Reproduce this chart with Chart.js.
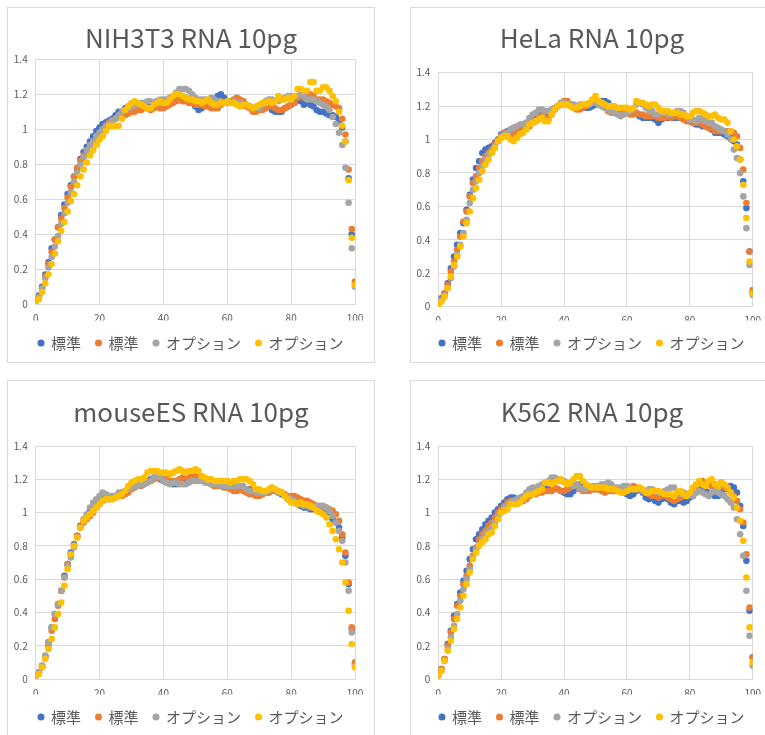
<!DOCTYPE html>
<html>
<head>
<meta charset="utf-8">
<script src="https://cdn.jsdelivr.net/npm/chart.js@4"></script>
<style>
  html, body { margin: 0; padding: 0; background: #fff; }
  #page { position: relative; width: 765px; height: 735px; overflow: hidden; background: #fff; }
  .frame { position: absolute; border: 1px solid #d9d9d9; box-sizing: border-box; }
  canvas { position: absolute; }
</style>
</head>
<body>
<div id="page"></div>
<script>
// position along the read (0-100), one point per step
const xs = [0,1,2,3,4,5,6,7,8,9,10,11,12,13,14,15,16,17,18,19,20,21,22,23,24,25,26,27,28,29,30,31,32,33,34,35,36,37,38,39,40,
  41,42,43,44,45,46,47,48,49,50,51,52,53,54,55,56,57,58,59,60,61,62,63,64,65,66,67,68,69,70,71,72,73,74,75,76,77,78,79,80,
  81,82,83,84,85,86,87,88,89,90,91,92,93,94,95,96,97,98,99,100];

const seriesNames = ["標準", "標準", "オプション", "オプション"];
const seriesColors = ["#4472C4", "#ED7D31", "#A5A5A5", "#FFC000"];
const chartTitles = ["NIH3T3 RNA 10pg", "HeLa RNA 10pg", "mouseES RNA 10pg", "K562 RNA 10pg"];

const nihBlue = [0.03,0.05,0.10,0.17,0.24,0.32,0.37,0.44,0.51,0.57,
  0.63,0.68,0.73,0.77,0.83,0.87,0.90,0.93,0.96,0.99,
  1.01,1.03,1.04,1.05,1.06,1.08,1.10,1.10,1.12,1.13,
  1.13,1.14,1.15,1.15,1.15,1.14,1.14,1.15,1.16,1.16,
  1.16,1.16,1.16,1.17,1.19,1.19,1.18,1.18,1.17,1.15,
  1.13,1.11,1.12,1.14,1.16,1.17,1.17,1.19,1.20,1.18,
  1.16,1.16,1.15,1.15,1.15,1.16,1.14,1.13,1.12,1.12,
  1.12,1.13,1.14,1.13,1.11,1.10,1.10,1.10,1.12,1.13,
  1.14,1.15,1.17,1.16,1.14,1.15,1.14,1.13,1.11,1.10,
  1.10,1.09,1.08,1.08,1.07,1.05,1.01,0.93,0.72,0.40,
  0.12];
const nihOrange = [0.02,0.04,0.09,0.16,0.23,0.30,0.37,0.44,0.49,0.55,
  0.61,0.67,0.73,0.78,0.82,0.85,0.88,0.91,0.93,0.96,
  0.98,1.00,1.02,1.04,1.05,1.06,1.07,1.07,1.08,1.09,
  1.10,1.10,1.11,1.11,1.12,1.12,1.11,1.12,1.13,1.12,
  1.12,1.13,1.14,1.15,1.16,1.17,1.16,1.16,1.15,1.15,
  1.14,1.14,1.14,1.13,1.13,1.12,1.12,1.12,1.14,1.15,
  1.15,1.16,1.17,1.18,1.17,1.16,1.13,1.12,1.10,1.10,
  1.11,1.11,1.12,1.13,1.13,1.12,1.11,1.11,1.12,1.13,
  1.14,1.15,1.18,1.19,1.18,1.18,1.20,1.19,1.17,1.17,
  1.17,1.16,1.15,1.14,1.13,1.12,1.06,0.97,0.77,0.43,
  0.13];
const nihGray = [0.02,0.04,0.09,0.15,0.21,0.27,0.33,0.39,0.46,0.52,
  0.58,0.64,0.70,0.75,0.80,0.84,0.88,0.91,0.93,0.96,
  0.98,1.00,1.02,1.03,1.05,1.06,1.08,1.10,1.11,1.12,
  1.13,1.14,1.14,1.15,1.15,1.16,1.16,1.15,1.16,1.17,
  1.17,1.17,1.18,1.19,1.21,1.23,1.23,1.23,1.22,1.20,
  1.18,1.17,1.17,1.17,1.17,1.18,1.17,1.16,1.16,1.15,
  1.15,1.15,1.16,1.15,1.15,1.14,1.14,1.13,1.12,1.12,
  1.12,1.14,1.16,1.17,1.17,1.16,1.16,1.17,1.18,1.19,
  1.19,1.19,1.19,1.20,1.19,1.17,1.17,1.17,1.16,1.15,
  1.14,1.13,1.11,1.07,1.03,0.98,0.91,0.78,0.58,0.32,
  0.10];
const nihYellow = [0.01,0.03,0.07,0.12,0.17,0.23,0.29,0.36,0.42,0.47,
  0.53,0.59,0.63,0.68,0.73,0.77,0.81,0.85,0.88,0.91,
  0.94,0.96,0.99,1.02,1.02,1.02,1.02,1.06,1.11,1.13,
  1.15,1.16,1.15,1.14,1.13,1.12,1.12,1.14,1.15,1.16,
  1.15,1.15,1.17,1.19,1.20,1.20,1.19,1.18,1.17,1.17,
  1.16,1.16,1.15,1.16,1.17,1.15,1.14,1.14,1.15,1.15,
  1.16,1.15,1.15,1.14,1.13,1.14,1.14,1.13,1.12,1.13,
  1.14,1.15,1.15,1.16,1.15,1.16,1.19,1.17,1.17,1.18,
  1.17,1.19,1.23,1.23,1.22,1.22,1.27,1.27,1.22,1.22,
  1.24,1.24,1.22,1.19,1.16,1.10,1.02,0.93,0.71,0.38,
  0.11];

const helaBlue = [0.03,0.05,0.08,0.14,0.23,0.30,0.37,0.44,0.50,0.58,
  0.67,0.76,0.83,0.87,0.92,0.94,0.95,0.96,0.98,1.00,
  1.03,1.04,1.05,1.06,1.07,1.07,1.08,1.09,1.10,1.11,
  1.12,1.13,1.15,1.16,1.14,1.14,1.16,1.18,1.20,1.21,
  1.22,1.22,1.21,1.20,1.19,1.19,1.19,1.19,1.19,1.20,
  1.21,1.22,1.23,1.23,1.22,1.20,1.19,1.18,1.17,1.17,
  1.17,1.16,1.16,1.16,1.14,1.13,1.13,1.13,1.13,1.12,
  1.10,1.12,1.13,1.13,1.13,1.13,1.13,1.14,1.14,1.12,
  1.11,1.10,1.09,1.09,1.08,1.08,1.07,1.06,1.04,1.04,
  1.04,1.03,1.02,1.01,0.99,0.97,0.88,0.75,0.59,0.33,
  0.09];
const helaOrange = [0.02,0.04,0.08,0.13,0.21,0.27,0.34,0.42,0.51,0.57,
  0.66,0.74,0.78,0.83,0.87,0.90,0.92,0.94,0.97,1.00,
  1.02,1.04,1.04,1.03,1.03,1.04,1.05,1.06,1.07,1.08,
  1.10,1.11,1.13,1.14,1.13,1.12,1.15,1.18,1.20,1.21,
  1.23,1.23,1.21,1.19,1.18,1.18,1.19,1.20,1.21,1.22,
  1.22,1.21,1.20,1.19,1.17,1.16,1.17,1.17,1.17,1.17,
  1.16,1.15,1.15,1.16,1.15,1.15,1.14,1.14,1.14,1.14,
  1.13,1.13,1.13,1.14,1.13,1.14,1.14,1.13,1.12,1.11,
  1.11,1.10,1.10,1.10,1.09,1.08,1.07,1.07,1.05,1.05,
  1.05,1.05,1.05,1.05,1.04,1.02,0.95,0.82,0.62,0.33,
  0.10];
const helaGray = [0.02,0.04,0.07,0.11,0.17,0.24,0.31,0.37,0.44,0.52,
  0.62,0.70,0.75,0.80,0.84,0.88,0.91,0.93,0.96,0.99,
  1.02,1.03,1.04,1.06,1.07,1.08,1.09,1.09,1.10,1.13,
  1.15,1.16,1.18,1.18,1.17,1.17,1.18,1.19,1.20,1.22,
  1.22,1.21,1.21,1.21,1.20,1.21,1.21,1.21,1.21,1.22,
  1.23,1.21,1.20,1.19,1.18,1.17,1.16,1.15,1.14,1.15,
  1.16,1.17,1.18,1.21,1.22,1.21,1.19,1.17,1.17,1.15,
  1.15,1.16,1.16,1.15,1.15,1.16,1.17,1.17,1.16,1.14,
  1.12,1.12,1.11,1.13,1.12,1.11,1.10,1.10,1.08,1.07,
  1.06,1.05,1.03,1.00,0.94,0.89,0.80,0.66,0.47,0.25,
  0.07];
const helaYellow = [0.01,0.03,0.06,0.11,0.18,0.25,0.30,0.36,0.42,0.50,
  0.57,0.65,0.71,0.76,0.81,0.85,0.88,0.92,0.95,0.99,
  1.01,1.02,1.02,1.00,0.99,1.01,1.03,1.04,1.06,1.09,
  1.10,1.11,1.12,1.13,1.11,1.11,1.15,1.18,1.20,1.21,
  1.21,1.21,1.20,1.19,1.19,1.20,1.21,1.21,1.22,1.24,
  1.26,1.23,1.22,1.21,1.20,1.20,1.20,1.19,1.19,1.19,
  1.19,1.18,1.19,1.23,1.22,1.22,1.21,1.20,1.21,1.21,
  1.19,1.17,1.17,1.17,1.16,1.16,1.16,1.15,1.15,1.14,
  1.14,1.16,1.17,1.17,1.16,1.15,1.14,1.14,1.15,1.13,
  1.12,1.12,1.10,1.05,1.00,0.96,0.88,0.73,0.53,0.27,
  0.08];

const mouseBlue = [0.02,0.04,0.08,0.14,0.22,0.31,0.39,0.45,0.53,0.62,
  0.69,0.76,0.81,0.86,0.92,0.95,0.98,1.01,1.03,1.05,
  1.08,1.10,1.10,1.10,1.10,1.10,1.11,1.12,1.13,1.14,
  1.15,1.16,1.17,1.17,1.18,1.19,1.20,1.21,1.21,1.20,
  1.19,1.18,1.18,1.17,1.17,1.18,1.19,1.20,1.20,1.21,
  1.21,1.21,1.20,1.19,1.18,1.17,1.16,1.16,1.16,1.16,
  1.16,1.15,1.15,1.15,1.15,1.14,1.14,1.14,1.13,1.12,
  1.11,1.11,1.12,1.12,1.13,1.13,1.12,1.11,1.10,1.08,
  1.07,1.06,1.05,1.04,1.03,1.03,1.02,1.02,1.02,1.03,
  1.03,1.02,1.00,0.96,0.94,0.91,0.85,0.74,0.57,0.30,
  0.09];
const mouseOrange = [0.02,0.04,0.07,0.13,0.20,0.29,0.36,0.44,0.53,0.61,
  0.69,0.75,0.80,0.86,0.91,0.94,0.96,0.98,1.00,1.03,
  1.05,1.07,1.08,1.08,1.09,1.09,1.10,1.10,1.11,1.12,
  1.14,1.15,1.16,1.16,1.17,1.18,1.19,1.20,1.21,1.21,
  1.20,1.20,1.19,1.19,1.19,1.20,1.21,1.21,1.21,1.22,
  1.22,1.22,1.20,1.19,1.18,1.17,1.16,1.16,1.16,1.15,
  1.15,1.14,1.13,1.13,1.14,1.13,1.12,1.11,1.11,1.10,
  1.10,1.11,1.12,1.12,1.13,1.13,1.12,1.12,1.11,1.10,
  1.10,1.10,1.09,1.08,1.07,1.07,1.06,1.05,1.04,1.03,
  1.03,1.03,1.02,1.01,0.99,0.95,0.87,0.76,0.58,0.31,
  0.10];
const mouseGray = [0.02,0.04,0.08,0.14,0.22,0.31,0.39,0.45,0.53,0.61,
  0.68,0.73,0.79,0.85,0.91,0.96,0.99,1.03,1.06,1.08,
  1.10,1.12,1.11,1.10,1.10,1.10,1.12,1.12,1.13,1.14,
  1.15,1.16,1.16,1.17,1.17,1.18,1.19,1.21,1.22,1.21,
  1.19,1.18,1.17,1.18,1.18,1.17,1.17,1.17,1.18,1.19,
  1.19,1.19,1.19,1.18,1.18,1.17,1.17,1.17,1.16,1.16,
  1.16,1.16,1.16,1.16,1.16,1.16,1.14,1.13,1.13,1.12,
  1.12,1.12,1.12,1.13,1.15,1.14,1.12,1.12,1.10,1.09,
  1.08,1.07,1.06,1.05,1.04,1.04,1.03,1.03,1.04,1.04,
  1.04,1.03,1.01,0.98,0.94,0.89,0.83,0.70,0.53,0.28,
  0.08];
const mouseYellow = [0.02,0.03,0.07,0.12,0.18,0.24,0.31,0.39,0.46,0.56,
  0.66,0.75,0.80,0.85,0.91,0.95,0.97,0.99,1.01,1.03,
  1.05,1.07,1.08,1.08,1.08,1.09,1.10,1.11,1.13,1.16,
  1.18,1.19,1.20,1.20,1.21,1.24,1.25,1.25,1.25,1.24,
  1.24,1.24,1.23,1.24,1.25,1.26,1.25,1.24,1.25,1.25,
  1.26,1.25,1.22,1.21,1.20,1.20,1.19,1.19,1.19,1.19,
  1.19,1.18,1.19,1.19,1.20,1.20,1.20,1.19,1.17,1.14,
  1.14,1.13,1.13,1.14,1.15,1.14,1.13,1.12,1.10,1.08,
  1.06,1.06,1.05,1.06,1.05,1.05,1.04,1.03,1.01,1.00,
  0.99,0.97,0.93,0.89,0.84,0.78,0.70,0.58,0.41,0.21,
  0.07];

const k562Blue = [0.03,0.06,0.12,0.21,0.29,0.38,0.45,0.52,0.59,0.65,
  0.72,0.78,0.84,0.87,0.90,0.93,0.95,0.97,1.00,1.02,
  1.04,1.06,1.08,1.09,1.09,1.08,1.08,1.08,1.09,1.11,
  1.12,1.12,1.13,1.13,1.14,1.14,1.13,1.15,1.14,1.13,
  1.12,1.11,1.11,1.13,1.16,1.17,1.16,1.15,1.14,1.14,
  1.14,1.14,1.14,1.14,1.14,1.14,1.13,1.13,1.13,1.12,
  1.11,1.10,1.11,1.13,1.14,1.12,1.09,1.08,1.09,1.07,
  1.06,1.08,1.09,1.08,1.06,1.05,1.07,1.07,1.06,1.07,
  1.09,1.10,1.12,1.14,1.13,1.13,1.12,1.11,1.10,1.10,
  1.12,1.14,1.15,1.16,1.15,1.12,1.04,0.92,0.71,0.41,
  0.13];
const k562Orange = [0.03,0.06,0.12,0.20,0.28,0.36,0.44,0.50,0.57,0.62,
  0.68,0.74,0.79,0.84,0.87,0.89,0.92,0.94,0.97,1.00,
  1.02,1.04,1.06,1.07,1.07,1.07,1.07,1.07,1.08,1.10,
  1.11,1.11,1.12,1.12,1.13,1.13,1.13,1.15,1.14,1.13,
  1.13,1.14,1.15,1.16,1.16,1.14,1.13,1.13,1.13,1.14,
  1.14,1.14,1.13,1.12,1.13,1.13,1.13,1.13,1.14,1.13,
  1.13,1.15,1.16,1.15,1.14,1.13,1.12,1.11,1.10,1.10,
  1.09,1.10,1.11,1.09,1.08,1.07,1.08,1.09,1.10,1.10,
  1.11,1.13,1.15,1.18,1.19,1.17,1.17,1.16,1.17,1.16,
  1.18,1.15,1.14,1.12,1.10,1.07,1.02,0.94,0.75,0.43,
  0.13];
const k562Gray = [0.02,0.05,0.11,0.18,0.25,0.32,0.39,0.47,0.54,0.60,
  0.66,0.73,0.78,0.81,0.84,0.87,0.89,0.91,0.94,0.98,
  1.00,1.03,1.04,1.06,1.07,1.08,1.09,1.10,1.12,1.14,
  1.15,1.15,1.16,1.17,1.18,1.19,1.21,1.21,1.20,1.19,
  1.19,1.18,1.17,1.16,1.17,1.15,1.14,1.14,1.15,1.16,
  1.16,1.16,1.17,1.17,1.18,1.17,1.15,1.15,1.15,1.16,
  1.16,1.15,1.14,1.14,1.14,1.13,1.12,1.14,1.14,1.13,
  1.12,1.12,1.13,1.14,1.15,1.15,1.12,1.11,1.12,1.11,
  1.11,1.10,1.12,1.13,1.12,1.11,1.10,1.12,1.13,1.12,
  1.11,1.10,1.08,1.06,1.03,0.96,0.87,0.74,0.53,0.26,
  0.08];
const k562Yellow = [0.02,0.05,0.11,0.17,0.23,0.30,0.36,0.43,0.50,0.57,
  0.64,0.72,0.76,0.80,0.82,0.84,0.87,0.88,0.92,0.96,
  1.00,1.01,1.02,1.05,1.05,1.05,1.06,1.08,1.10,1.11,
  1.11,1.12,1.13,1.14,1.18,1.18,1.17,1.18,1.19,1.20,
  1.18,1.17,1.18,1.20,1.22,1.22,1.19,1.17,1.16,1.15,
  1.15,1.15,1.15,1.15,1.14,1.14,1.14,1.13,1.12,1.12,
  1.13,1.14,1.14,1.14,1.15,1.14,1.12,1.12,1.13,1.13,
  1.13,1.12,1.11,1.11,1.11,1.10,1.12,1.13,1.11,1.10,
  1.12,1.15,1.17,1.19,1.17,1.16,1.19,1.20,1.17,1.16,
  1.18,1.17,1.15,1.12,1.09,1.03,0.95,0.83,0.61,0.31,
  0.10];

const chartSeries = [
  [nihBlue, nihOrange, nihGray, nihYellow],
  [helaBlue, helaOrange, helaGray, helaYellow],
  [mouseBlue, mouseOrange, mouseGray, mouseYellow],
  [k562Blue, k562Orange, k562Gray, k562Yellow]
];

// layout of the four panels: frame box and target plot rectangle (page px)
const panels = [
  { box: [7, 7, 368, 356], plot: [35.7, 59.3, 355, 304.3], titleY: 38, legendY: 343 },
  { box: [410, 7, 364, 356], plot: [438.3, 72.7, 752.7, 306.7], titleY: 38, legendY: 343 },
  { box: [7, 380, 368, 356], plot: [35.7, 446, 355, 679], titleY: 412, legendY: 717 },
  { box: [410, 380, 364, 356], plot: [438.3, 446, 752.7, 679], titleY: 412, legendY: 717 }
];

const fontFamily = "'Noto Sans CJK JP', 'Noto Sans', sans-serif";
const textColor = "#595959";
const gridColor = "#d9d9d9";
const titleSize = 26;
const legendSize = 15;

const page = document.getElementById("page");

function makeChart(idx) {
  const p = panels[idx];
  const [bx, by, bw, bh] = p.box;

  const frame = document.createElement("div");
  frame.className = "frame";
  frame.style.left = bx + "px";
  frame.style.top = by + "px";
  frame.style.width = bw + "px";
  frame.style.height = bh + "px";
  page.appendChild(frame);

  const canvas = document.createElement("canvas");
  canvas.width = bw;
  canvas.height = bh;
  canvas.style.left = bx + "px";
  canvas.style.top = by + "px";
  page.appendChild(canvas);

  const fit = { yw: 30, xh: 24, tb: 10, pr: 20 };
  const titleTop = (p.titleY - by) - titleSize * 1.2 / 2;
  const legendPad = Math.max(0, (by + bh - p.legendY) - 17.5);

  const datasets = chartSeries[idx].map((ys, i) => ({
    label: seriesNames[i],
    data: xs.map((x, j) => ({ x: x, y: ys[j] })),
    backgroundColor: seriesColors[i],
    borderColor: seriesColors[i],
    borderWidth: 0,
    pointRadius: 3.3,
    pointHoverRadius: 3.3,
    order: 4 - i
  }));

  const chart = new Chart(canvas, {
    type: "scatter",
    data: { datasets: datasets },
    options: {
      responsive: false,
      animation: false,
      devicePixelRatio: 1,
      layout: { padding: { left: 0, right: 0, top: 0, bottom: legendPad } },
      plugins: {
        title: {
          display: true,
          text: chartTitles[idx],
          color: textColor,
          font: { family: fontFamily, size: titleSize, weight: "normal" },
          padding: { top: titleTop, bottom: fit.tb }
        },
        legend: {
          position: "bottom",
          labels: {
            usePointStyle: true,
            pointStyle: "circle",
            boxWidth: 5,
            boxHeight: 5,
            padding: 15,
            color: textColor,
            font: { family: fontFamily, size: legendSize },
            sort: (a, b) => a.datasetIndex - b.datasetIndex
          }
        },
        tooltip: { enabled: false }
      },
      scales: {
        x: {
          type: "linear",
          min: 0,
          max: 100,
          ticks: { stepSize: 20, color: textColor, font: { family: fontFamily, size: 10 }, padding: 8 },
          grid: { color: gridColor, drawTicks: false },
          border: { color: gridColor },
          afterFit: (s) => { s.height = fit.xh; s.paddingRight = fit.pr; }
        },
        y: {
          min: 0,
          max: 1.4,
          ticks: {
            stepSize: 0.2,
            color: textColor,
            font: { family: fontFamily, size: 10 },
            padding: 8,
            callback: (v) => String(Math.round(v * 10) / 10)
          },
          grid: { color: gridColor, drawTicks: false },
          border: { color: gridColor },
          afterFit: (s) => { s.width = fit.yw; }
        }
      }
    }
  });

  // nudge axis sizes so the plot area lands where the reference has it
  for (let pass = 0; pass < 2; pass++) {
    const a = chart.chartArea;
    fit.yw += (p.plot[0] - bx) - a.left;
    fit.pr += a.right - (p.plot[2] - bx);
    fit.tb += (p.plot[1] - by) - a.top;
    fit.xh += a.bottom - (p.plot[3] - by);
    chart.options.plugins.title.padding.bottom = fit.tb;
    chart.update();
  }
  return chart;
}

const charts = panels.map((p, i) => makeChart(i));
</script>
</body>
</html>
